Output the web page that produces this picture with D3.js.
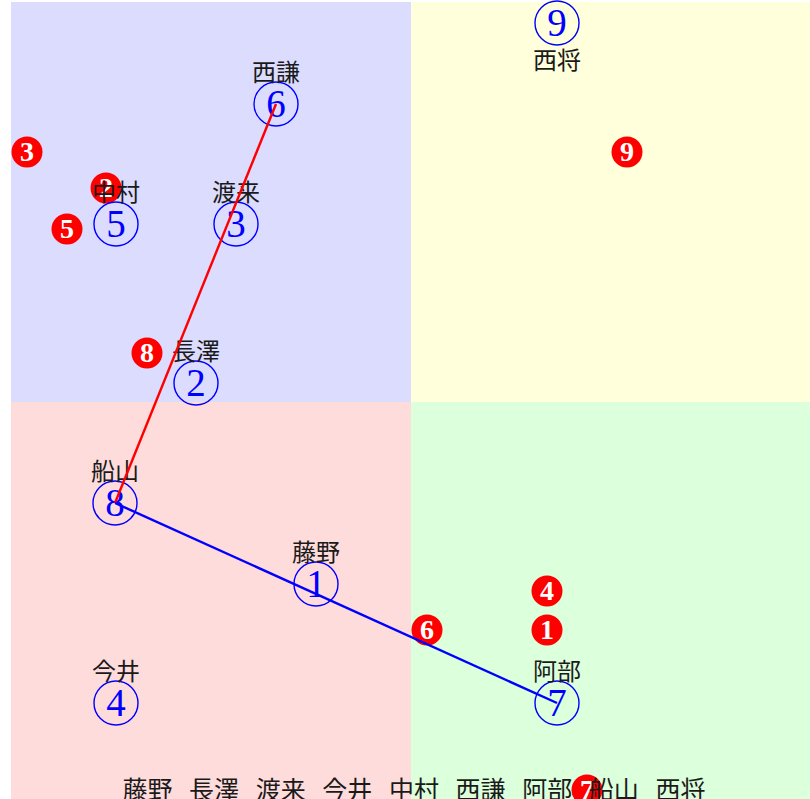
<!DOCTYPE html>
<html>
<head>
<meta charset="utf-8">
<script src="https://cdn.jsdelivr.net/npm/d3@7"></script>
<style>
  html, body { margin: 0; padding: 0; background: #ffffff; }
  svg { display: block; }
</style>
</head>
<body>
<svg id="chart" width="810" height="799"></svg>
<script>
// ---- data ----
const names = ["藤野", "長澤", "渡来", "今井", "中村", "西謙", "阿部", "船山", "西将"];
const blueX = [-2.375, -5.375, -4.375, -7.375, -7.375, -3.375, 3.65, -7.4, 3.65];
const blueY = [-4.55, 0.475, 4.45, -7.525, 4.45, 7.45, -7.525, -2.525, 9.475];
const redX = [3.4, -7.625, -9.6, 3.4, -8.6, 0.4, 4.4, -6.6, 5.4];
const redY = [-5.7, 5.35, 6.25, -4.725, 4.325, -5.7, -9.7, 1.225, 6.25];
const labelSide = ["above", "above", "above", "above", "above", "above", "above", "above", "below"];
const linkFrom = [8, 8];
const linkTo = [6, 7];
const quadrants = [
  { x0: -10, x1: 0, y0: 0, y1: 10, fill: "#dcdcff" },
  { x0: 0, x1: 10, y0: 0, y1: 10, fill: "#ffffdc" },
  { x0: -10, x1: 0, y0: -10, y1: 0, fill: "#ffdcdc" },
  { x0: 0, x1: 10, y0: -10, y1: 0, fill: "#dcffdc" }
];
const linkColors = ["#ff0000", "#0000ff"];

// ---- scales ----
const svg = d3.select("#chart");
const x = d3.scaleLinear().domain([-10, 10]).range([11, 811]);
const y = d3.scaleLinear().domain([-10, 10]).range([802, 2]);
const bottomScale = d3.scalePoint().domain(names).range([147.5, 680.5]);

const serif = "'Liberation Serif', 'DejaVu Serif', serif";
const cjk = "'Noto Sans CJK JP', 'Noto Sans CJK SC', sans-serif";

// backgrounds
svg.append("g").selectAll("rect").data(quadrants).join("rect")
  .attr("x", d => x(d.x0)).attr("y", d => y(d.y1))
  .attr("width", d => x(d.x1) - x(d.x0))
  .attr("height", d => y(d.y0) - y(d.y1))
  .attr("fill", d => d.fill);

// red filled numbers
const reds = svg.append("g").selectAll("g").data(redX.map((v, i) => ({ x: v, y: redY[i], n: i + 1 })))
  .join("g").attr("transform", d => `translate(${x(d.x)},${y(d.y)})`);
reds.append("circle").attr("r", 15.5).attr("fill", "#ff0000");
reds.append("text").text(d => d.n)
  .attr("text-anchor", "middle").attr("y", 9.3)
  .attr("font-family", serif).attr("font-weight", "bold").attr("font-size", 28)
  .attr("fill", "#ffffff");

// blue circled numbers
const blues = svg.append("g").selectAll("g").data(blueX.map((v, i) => ({ x: v, y: blueY[i], n: i + 1, name: names[i], side: labelSide[i] })))
  .join("g").attr("transform", d => `translate(${x(d.x)},${y(d.y)})`);
blues.append("circle").attr("r", 22).attr("fill", "none")
  .attr("stroke", "#0000ff").attr("stroke-width", 1.4);
blues.append("text").text(d => d.n)
  .attr("text-anchor", "middle").attr("y", 12.8)
  .attr("font-family", serif).attr("font-size", 39)
  .attr("fill", "#0000ff");
blues.append("text").text(d => d.name)
  .attr("text-anchor", "middle")
  .attr("y", d => d.side === "above" ? -23 : 46)
  .attr("font-family", cjk).attr("font-size", 24)
  .attr("fill", "#1a1a1a");

// bottom row names
svg.append("g").selectAll("text").data(names).join("text")
  .text(d => d)
  .attr("x", d => bottomScale(d)).attr("y", 799)
  .attr("text-anchor", "middle")
  .attr("font-family", cjk).attr("font-size", 25)
  .attr("fill", "#1a1a1a");

// links
svg.append("g").selectAll("line").data(linkFrom.map((f, i) => ({ f: f - 1, t: linkTo[i] - 1, c: linkColors[i] })))
  .join("line")
  .attr("x1", d => x(blueX[d.f])).attr("y1", d => y(blueY[d.f]))
  .attr("x2", d => x(blueX[d.t])).attr("y2", d => y(blueY[d.t]))
  .attr("stroke", d => d.c).attr("stroke-width", 2.4);
</script>
</body>
</html>
